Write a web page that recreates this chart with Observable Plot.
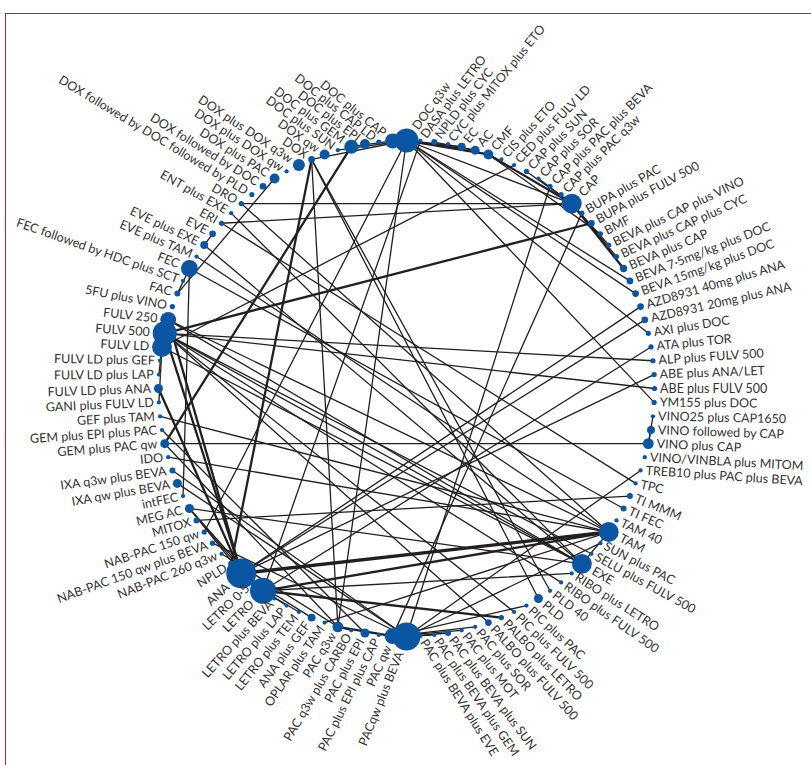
<!DOCTYPE html>
<html><head><meta charset="utf-8">
<script src="https://cdn.jsdelivr.net/npm/d3@7"></script>
<script src="https://cdn.jsdelivr.net/npm/@observablehq/plot@0.6"></script>
<style>
html,body{margin:0;padding:0;background:#fff;}
#wrap{position:relative;width:811px;height:765px;overflow:hidden;}
#frame{position:absolute;left:5px;top:13px;width:820px;height:770px;border-left:1.5px solid #c8184a;border-top:1.5px solid #c8184a;}
#chart{position:absolute;left:0;top:0;}
</style></head><body><div id="wrap"><div id="frame"></div><div id="chart"></div></div>
<script>
// Treatments in clockwise order, starting at the top
const treatments = [
"DOC q3w","DASA plus LETRO","NPLD plus CYC","CYC plus MITOX plus ETO","EC","AC","CMF","CIS plus ETO","CED plus FULV LD","CAP plus SUN",
"CAP plus SOR","CAP plus PAC plus BEVA","CAP plus PAC q3w","CAP","BUPA plus PAC","BUPA plus FULV 500","BMF","BEVA plus CAP plus VINO","BEVA plus CAP plus CYC","BEVA plus CAP",
"BEVA 7·5mg/kg plus DOC","BEVA 15mg/kg plus DOC","AZD8931 40mg plus ANA","AZD8931 20mg plus ANA","AXI plus DOC","ATA plus TOR","ALP plus FULV 500","ABE plus ANA/LET","ABE plus FULV 500","YM155 plus DOC",
"VINO25 plus CAP1650","VINO followed by CAP","VINO plus CAP","VINO/VINBLA plus MITOM","TREB10 plus PAC plus BEVA","TPC","TI MMM","TI FEC","TAM 40","TAM",
"SUN plus PAC","SELU plus FULV 500","EXE","RIBO plus LETRO","RIBO plus FULV 500","PLD 40","PLD","PIC plus PAC","PIC plus FULV 500","PALBO plus LETRO",
"PALBO plus FULV 500","PAC plus SOR","PAC plus MOT","PAC plus BEVA plus SUN","PAC plus BEVA plus GEM","PAC plus BEVA plus EVE","PACqw plus BEVA","PAC qw","PAC plus EPI plus CAP","PAC plus EPI",
"PAC q3w plus CARBO","PAC q3w","OPLAR plus TAM","ANA plus GEF","LETRO plus TEM","LETRO plus LAP","LETRO plus BEVA","LETRO","LETRO 0·5","ANA",
"NPLD","NAB-PAC 260 q3w","NAB-PAC 150 qw plus BEVA","NAB-PAC 150 qw","MITOX","MEG AC","intFEC","IXA qw plus BEVA","IXA q3w plus BEVA","IDO",
"GEM plus PAC qw","GEM plus EPI plus PAC","GEF plus TAM","GANI plus FULV LD","FULV LD plus ANA","FULV LD plus LAP","FULV LD plus GEF","FULV LD","FULV 500","FULV 250",
"5FU plus VINO","FAC","FEC followed by HDC plus SCT","FEC","EVE plus TAM","EVE plus EXE","EVE","ERI","ENT plus EXE","DRO",
"DOX followed by DOC followed by PLD","DOX followed by DOC","DOX plus PAC","DOX plus DOX qw","DOX plus DOX q3w","DOX","DOX qw","DOC plus SUN","DOC plus GEM","DOC plus EPI",
"DOC plus CAP LD","DOC plus CAP"
];
// relative number of patients per treatment (node area)
const patients = [
64,2,4,2,7,9,11,2,2,3,
2,3,3,44,3,5,3,3,3,6,
5,5,5,5,3,3,3,3,3,3,
2,7,13,2,2,2,4,4,2,44,
2,2,44,2,2,2,9,2,2,3,
5,2,2,4,2,2,87,28,2,9,
2,13,2,7,2,2,2,75,4,100,
4,2,3,3,4,9,2,9,4,2,
9,2,2,2,9,2,2,44,64,28,
3,4,2,32,2,7,5,3,2,3,
3,5,11,2,16,5,11,2,22,11,
3,25
];
// direct comparisons: from, to, number of trials
const edgeFrom = [
"FULV 500","FULV 500","FULV 500","FULV 500","FULV 500","FULV 500","FULV 500","FULV 500","FULV 500","FULV 250","FULV 250","FULV 250",
"FULV LD plus ANA","FULV LD","FULV LD","FULV LD","FULV LD","LETRO","LETRO","ANA","LETRO","ANA","EXE","EXE","EXE","TAM","TAM","TAM","TAM","TAM",
"ANA","ANA","ANA","LETRO","LETRO","LETRO","LETRO","LETRO 0·5","ANA","EXE","LETRO","LETRO","LETRO",
"DOC q3w","DOC q3w","DOC q3w","DOC q3w","DOC q3w","DOC q3w","DOC q3w","DOC q3w","DOC plus CAP","DOC q3w","DOC q3w","DOC q3w","DOC q3w",
"PACqw plus BEVA","PACqw plus BEVA","PACqw plus BEVA","PACqw plus BEVA","PACqw plus BEVA","PACqw plus BEVA","PACqw plus BEVA","PACqw plus BEVA","PACqw plus BEVA","PAC qw","PAC qw","PAC qw","PAC qw",
"CAP","CAP","CAP","CAP","CAP","CAP","TPC","PAC q3w","PAC q3w","PAC q3w","PAC q3w","PAC q3w","VINO plus CAP","VINO plus CAP","VINO plus CAP",
"PLD","CMF","FEC","FEC","FEC","FULV 500","DOC q3w","AC","NPLD","PAC plus EPI","CMF","MITOX","FAC","DOX","EVE plus EXE","GEM plus PAC qw","DRO"
];
const edgeTo = [
"BUPA plus FULV 500","ALP plus FULV 500","ABE plus FULV 500","PALBO plus FULV 500","RIBO plus FULV 500","PIC plus FULV 500","SELU plus FULV 500","ANA","EXE","ANA","EXE","TAM",
"ANA","FULV LD plus LAP","GANI plus FULV LD","CED plus FULV LD","EXE","PALBO plus LETRO","RIBO plus LETRO","ABE plus ANA/LET","TAM","TAM","TAM","EVE plus EXE","ENT plus EXE","EVE plus TAM","GEF plus TAM","OPLAR plus TAM","DRO","IDO",
"ANA plus GEF","AZD8931 40mg plus ANA","AZD8931 20mg plus ANA","LETRO plus LAP","LETRO plus BEVA","LETRO plus TEM","MEG AC","MEG AC","MEG AC","MEG AC","ATA plus TOR","ANA","DASA plus LETRO",
"DOC plus CAP","BEVA 7·5mg/kg plus DOC","BEVA 15mg/kg plus DOC","AXI plus DOC","YM155 plus DOC","DOX","PAC q3w","AC","DOC plus GEM","DOC plus SUN","NAB-PAC 150 qw","CMF","EC",
"PAC plus BEVA plus EVE","PAC plus BEVA plus GEM","PAC plus BEVA plus SUN","NAB-PAC 150 qw plus BEVA","IXA qw plus BEVA","IXA q3w plus BEVA","TREB10 plus PAC plus BEVA","SUN plus PAC","CAP plus PAC plus BEVA","PAC plus SOR","PAC plus MOT","BUPA plus PAC","PIC plus PAC",
"BEVA plus CAP","BEVA plus CAP plus VINO","BEVA plus CAP plus CYC","ERI","CAP plus SUN","CAP plus SOR","ERI","PAC q3w plus CARBO","GEM plus PAC qw","DOX","PAC qw","NAB-PAC 260 q3w","VINO followed by CAP","VINO25 plus CAP1650","GEM plus PAC qw",
"DOX","CAP","FAC","TI FEC","intFEC","FULV LD","CAP","NPLD plus CYC","DOX","GEM plus EPI plus PAC","BMF","TI MMM","DOX plus PAC","PLD 40","EVE","DOC plus GEM","CAP"
];
const edgeTrials = [
2,1,1,1,1,1,1,2,1,2,1,1,
2,1,1,1,1,2,1,1,2,3,1,1,1,1,1,1,1,1,
1,1,1,1,1,1,1,1,1,1,1,1,1,
1,1,1,1,1,1,1,1,1,1,1,2,1,
1,1,1,1,1,1,1,1,1,1,1,1,1,
2,1,1,1,1,1,1,1,1,1,2,1,1,1,1,
1,2,1,1,1,1,1,1,2,1,1,1,1,1,1,2,1
];

const W = 811, H = 765, CX = 406, CY = 388, R = 248;
const N = treatments.length;
const rScale = v => 15 * Math.sqrt(v / 100);
function interp(pts, v){ for(let k=1;k<pts.length;k++){ if(v<=pts[k][0]){ const [a0,b0]=pts[k-1],[a1,b1]=pts[k]; return b0+(b1-b0)*(v-a0)/(a1-a0);} } return pts[pts.length-1][1]; }
const rightRot = [[-90,-54],[-60,-45],[-47,-45],[-45,-30],[-22.5,-20],[-10,-6],[0,0],[20,4],[25,22],[45,30],[60,42],[75,50],[90,60]];
const leftRot  = [[-90,-68],[-70,-55],[-48,-42],[-42,-22],[-30,-15],[-15,-5],[0,-2],[15,5],[25,19],[40,28],[55,32],[70,35],[90,40]];

const nodes = treatments.map((name, i) => {
  const th = i * 360 / N, a = th * Math.PI / 180;
  const x = CX + R * Math.sin(a), y = CY - R * Math.cos(a);
  const rpx = rScale(patients[i]);
  const right = th < 180 || i === 0;
  const rot = right ? interp(rightRot, th - 90) : interp(leftRot, th - 270);
  const ra = rot * Math.PI / 180, gap = rpx + 3;
  const lx = right ? x + gap * Math.cos(ra) : x - gap * Math.cos(ra);
  const ly = right ? y + gap * Math.sin(ra) : y - gap * Math.sin(ra);
  return {name, x, y, n: patients[i], right, rot, lx, ly};
});
const byName = new Map(nodes.map(d => [d.name, d]));
const edges = edgeFrom.map((f, i) => ({a: byName.get(f), b: byName.get(edgeTo[i]), k: edgeTrials[i]})).filter(e => e.a && e.b);

const chart = Plot.plot({
  width: W, height: H, margin: 0,
  style: {fontFamily: "Lato, 'Open Sans', sans-serif", background: "transparent"},
  x: {domain: [0, W], range: [0, W], axis: null},
  y: {domain: [0, H], range: [0, H], axis: null},
  r: {type: "sqrt", domain: [0, 100], range: [0, 15]},
  marks: [
    Plot.link(edges, {x1: d => d.a.x, y1: d => d.a.y, x2: d => d.b.x, y2: d => d.b.y,
      stroke: "#231f20", strokeWidth: d => 0.3 + 1.0 * d.k, strokeLinecap: "round"}),
    Plot.dot(nodes, {x: "x", y: "y", r: "n", fill: "#0a56a2", stroke: "none"}),
    Plot.text(nodes.filter(d => d.right), {x: "lx", y: "ly", text: "name", rotate: "rot", textAnchor: "start", fontSize: 12.5, fill: "#333"}),
    Plot.text(nodes.filter(d => !d.right), {x: "lx", y: "ly", text: "name", rotate: "rot", textAnchor: "end", fontSize: 12.5, fill: "#333"})
  ]
});
document.getElementById("chart").appendChild(chart);
</script>
</body></html>
